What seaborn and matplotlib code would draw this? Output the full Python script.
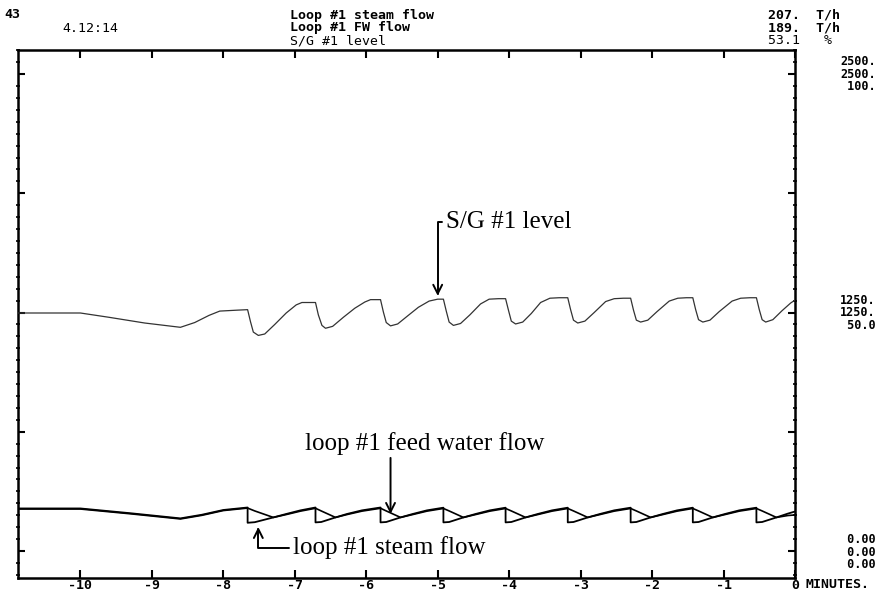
import matplotlib
matplotlib.use("Agg")
import matplotlib.pyplot as plt
from matplotlib.ticker import MultipleLocator
import seaborn as sns

sns.set_theme(style="white")
plt.rcParams["font.family"] = ["DejaVu Sans Mono"]
plt.rcParams["text.color"] = "black"
plt.rcParams["xtick.color"] = "black"
plt.rcParams["ytick.color"] = "black"

# time in minutes, flows in T/h, level in %
steam_t = [-10.88, -10.0, -9.3, -8.6, -8.3, -8.0, -7.66,
           -7.66, -7.56, -7.30, -7.12, -6.92, -6.71,
           -6.71, -6.63, -6.43, -6.27, -6.06, -5.80,
           -5.80, -5.72, -5.52, -5.35, -5.15, -4.92,
           -4.92, -4.84, -4.64, -4.47, -4.27, -4.05,
           -4.05, -3.97, -3.77, -3.60, -3.40, -3.18,
           -3.18, -3.10, -2.90, -2.73, -2.53, -2.30,
           -2.30, -2.22, -2.02, -1.85, -1.65, -1.43,
           -1.43, -1.35, -1.15, -0.98, -0.78, -0.54,
           -0.54, -0.46, -0.26, -0.10, 0.0]
steam_v = [223, 223, 198, 171, 190, 215, 228,
           148, 151, 176, 194, 213, 228,
           150, 152, 176, 194, 213, 228,
           150, 152, 176, 194, 213, 227,
           150, 152, 176, 194, 213, 227,
           150, 152, 176, 194, 213, 227,
           150, 152, 176, 194, 213, 227,
           150, 152, 176, 194, 213, 227,
           150, 152, 176, 194, 213, 227,
           150, 152, 176, 196, 207]

fw_t = [-10.88, -10.0, -9.3, -8.6, -8.3, -8.0, -7.66,
        -7.56, -7.30, -7.12, -6.92, -6.71,
        -6.63, -6.43, -6.27, -6.06, -5.80,
        -5.72, -5.52, -5.35, -5.15, -4.92,
        -4.84, -4.64, -4.47, -4.27, -4.05,
        -3.97, -3.77, -3.60, -3.40, -3.18,
        -3.10, -2.90, -2.73, -2.53, -2.30,
        -2.22, -2.02, -1.85, -1.65, -1.43,
        -1.35, -1.15, -0.98, -0.78, -0.54,
        -0.46, -0.26, -0.10, 0.0]
fw_v = [220, 220, 195, 168, 187, 212, 225,
        210, 176, 191, 209, 224,
        210, 176, 191, 209, 224,
        210, 176, 191, 209, 223,
        210, 176, 191, 209, 223,
        210, 176, 191, 209, 223,
        210, 176, 191, 209, 223,
        210, 176, 191, 209, 223,
        210, 176, 191, 209, 223,
        210, 176, 186, 189]

level_t = [-10.88, -10.0, -9.6, -9.1, -8.6, -8.4, -8.2, -8.05, -7.8, -7.66,
           -7.62, -7.58, -7.51, -7.42, -7.28, -7.12, -6.98, -6.9, -6.71,
           -6.67, -6.62, -6.57, -6.47, -6.32, -6.16, -6.02, -5.94, -5.80,
           -5.76, -5.72, -5.66, -5.56, -5.42, -5.27, -5.12, -5.0, -4.92,
           -4.88, -4.84, -4.78, -4.68, -4.55, -4.40, -4.28, -4.15, -4.05,
           -4.01, -3.97, -3.91, -3.81, -3.69, -3.56, -3.43, -3.3, -3.18,
           -3.14, -3.10, -3.04, -2.94, -2.81, -2.65, -2.53, -2.40, -2.30,
           -2.26, -2.22, -2.16, -2.06, -1.93, -1.76, -1.64, -1.52, -1.43,
           -1.39, -1.35, -1.29, -1.19, -1.06, -0.88, -0.76, -0.63, -0.54,
           -0.50, -0.46, -0.41, -0.31, -0.18, -0.06, 0.0]
level_v = [49.9, 49.9, 49.0, 47.8, 46.9, 47.9, 49.4, 50.3, 50.5, 50.6,
           48.1, 45.9, 45.2, 45.5, 47.5, 49.9, 51.6, 52.1, 52.1,
           49.5, 47.3, 46.7, 47.1, 49.0, 50.9, 52.2, 52.7, 52.7,
           50.1, 47.9, 47.2, 47.6, 49.3, 51.1, 52.4, 52.8, 52.8,
           50.3, 48.0, 47.3, 47.7, 49.5, 51.8, 52.8, 52.9, 52.9,
           50.5, 48.2, 47.6, 48.0, 49.8, 52.1, 53.0, 53.1, 53.1,
           50.6, 48.4, 47.8, 48.2, 50.0, 52.3, 52.9, 53.0, 53.0,
           50.5, 48.4, 48.0, 48.4, 50.2, 52.4, 53.0, 53.1, 53.1,
           50.6, 48.5, 48.0, 48.4, 50.2, 52.4, 53.0, 53.1, 53.1,
           50.6, 48.5, 48.0, 48.5, 50.4, 52.0, 52.6]

x_ticks = [-10, -9, -8, -7, -6, -5, -4, -3, -2, -1, 0]
x_tick_labels = ["-10", "-9", "-8", "-7", "-6", "-5", "-4", "-3", "-2", "-1", "0"]

# scale labels printed to the right of the frame (steam / FW / level)
scale_top = "2500.\n2500.\n 100."
scale_mid = "1250.\n1250.\n 50.0"
scale_bot = " 0.00\n 0.00\n 0.00"

W, H = 885, 594
fig = plt.figure(figsize=(W / 100, H / 100), dpi=100)
ax = fig.add_axes([17.5 / W, (H - 578) / H, (795 - 17.5) / W, (578 - 50) / H])
ax2 = ax.twinx()

flow_lim = (-141.5, 2626)
ax.set_xlim(-10.88, 0.0)
ax.set_ylim(*flow_lim)
ax2.set_ylim(flow_lim[0] / 25, flow_lim[1] / 25)

sns.lineplot(x=steam_t, y=steam_v, ax=ax, estimator=None, sort=False,
             color="black", lw=1.3)
sns.lineplot(x=fw_t, y=fw_v, ax=ax, estimator=None, sort=False,
             color="black", lw=1.2)
sns.lineplot(x=level_t, y=level_v, ax=ax2, estimator=None, sort=False,
             color="#333333", lw=0.9)

for s in ax.spines.values():
    s.set_linewidth(1.8)
    s.set_color("black")
for s in ax2.spines.values():
    s.set_visible(False)
ax2.set_yticks([])
ax2.set_ylabel("")

ax.set_xticks(x_ticks)
ax.set_xticklabels(x_tick_labels, fontweight="bold", fontsize=9.5)
ax.set_yticks([0, 625, 1250, 1875, 2500])
ax.set_yticklabels([])
ax.yaxis.set_minor_locator(MultipleLocator(62.5))
ax.tick_params(axis="x", which="major", direction="in", length=6, width=1.5,
               top=True, bottom=True, pad=1, colors="black")
ax.tick_params(axis="y", which="major", direction="in", length=5, width=1.5,
               left=True, right=True)
ax.tick_params(axis="y", which="minor", direction="inout", length=3, width=1.2,
               left=True, right=True)
ax.set_xlabel("")
ax.set_ylabel("")

serif = ["Liberation Serif", "DejaVu Serif"]
arrow_kw = dict(arrowstyle="->", color="black", lw=1.4, mutation_scale=16,
                shrinkA=0, shrinkB=0)

ax2.annotate("S/G #1 level", xy=(-5.0, 53.5), xytext=(-4.89, 69.0),
             ha="left", va="center", fontsize=18, family=serif, color="black",
             arrowprops=dict(connectionstyle="angle,angleA=0,angleB=90,rad=0", **arrow_kw))
ax.text(-6.85, 566, "loop #1 feed water flow", ha="left", va="center",
        fontsize=18, family=serif, color="black")
ax.annotate("", xy=(-5.66, 194), xytext=(-5.66, 488), arrowprops=arrow_kw)
ax.annotate("loop #1 steam flow", xy=(-7.51, 126), xytext=(-7.03, 16),
            ha="left", va="center", fontsize=18, family=serif, color="black",
            arrowprops=dict(connectionstyle="angle,angleA=0,angleB=90,rad=0", **arrow_kw))


def ftext(x, y, s, **kw):
    kw.setdefault("fontsize", 9.5)
    fig.text(x / W, 1 - y / H, s, va="center", ha="left", color="black", **kw)


ftext(4, 15, "43", fontweight="bold")
ftext(62, 28, "4.12:14")
ftext(290, 15, "Loop #1 steam flow", fontweight="bold")
ftext(290, 28, "Loop #1 FW flow", fontweight="bold")
ftext(290, 41, "S/G #1 level")
ftext(768, 15, "207.  T/h", fontweight="bold")
ftext(768, 28, "189.  T/h", fontweight="bold")
ftext(768, 41, "53.1   %")

for y, s in [(74, scale_top), (313, scale_mid), (552, scale_bot)]:
    ftext(840, y, s, fontweight="bold", fontsize=8.5, linespacing=0.91)
ftext(806, 585, "MINUTES.", fontweight="bold")

fig.savefig("out.png", dpi=100, facecolor="white")
